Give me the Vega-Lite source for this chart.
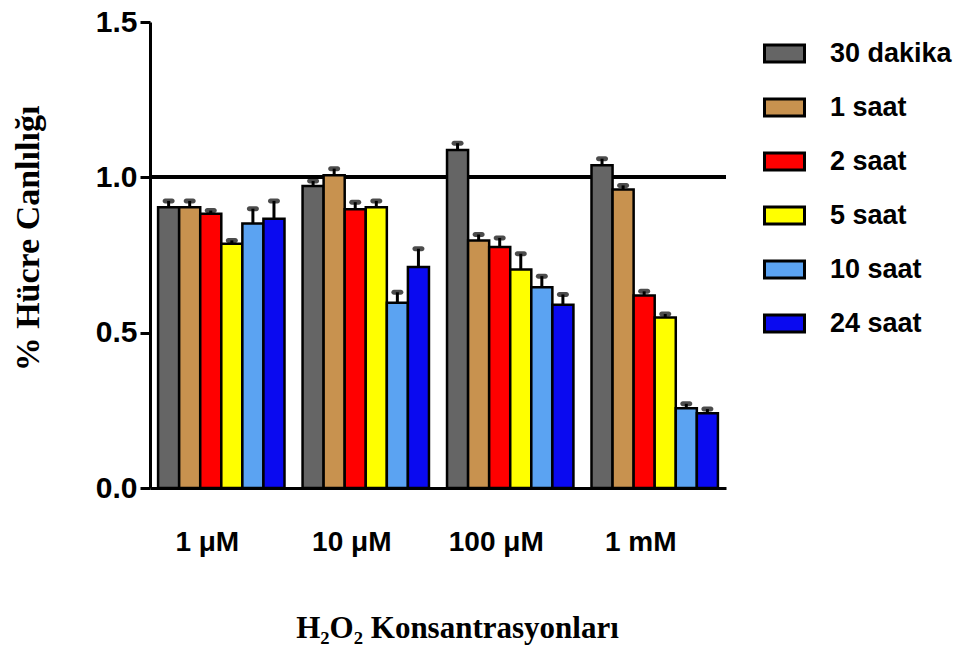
{
  "$schema": "https://vega.github.io/schema/vega-lite/v6.json",
  "width": 576,
  "height": 466,
  "autosize": "none",
  "padding": {"left": 150, "top": 22, "right": 228, "bottom": 158},
  "background": "white",
  "config": {
    "view": {"stroke": null},
    "axis": {"grid": false, "domainColor": "black", "tickColor": "black", "labelColor": "black", "titleColor": "black"}
  },
  "data": {
    "values": [
      {"conc": "1 μM", "series": "30 dakika", "value": 0.904, "hi": 0.924},
      {"conc": "1 μM", "series": "1 saat", "value": 0.904, "hi": 0.924},
      {"conc": "1 μM", "series": "2 saat", "value": 0.883, "hi": 0.893},
      {"conc": "1 μM", "series": "5 saat", "value": 0.786, "hi": 0.797},
      {"conc": "1 μM", "series": "10 saat", "value": 0.851, "hi": 0.899},
      {"conc": "1 μM", "series": "24 saat", "value": 0.867, "hi": 0.924},
      {"conc": "10 μM", "series": "30 dakika", "value": 0.972, "hi": 0.988},
      {"conc": "10 μM", "series": "1 saat", "value": 1.007, "hi": 1.028},
      {"conc": "10 μM", "series": "2 saat", "value": 0.897, "hi": 0.92},
      {"conc": "10 μM", "series": "5 saat", "value": 0.904, "hi": 0.924},
      {"conc": "10 μM", "series": "10 saat", "value": 0.596, "hi": 0.63},
      {"conc": "10 μM", "series": "24 saat", "value": 0.711, "hi": 0.77},
      {"conc": "100 μM", "series": "30 dakika", "value": 1.088, "hi": 1.11},
      {"conc": "100 μM", "series": "1 saat", "value": 0.797, "hi": 0.816},
      {"conc": "100 μM", "series": "2 saat", "value": 0.776, "hi": 0.805},
      {"conc": "100 μM", "series": "5 saat", "value": 0.703, "hi": 0.754},
      {"conc": "100 μM", "series": "10 saat", "value": 0.646, "hi": 0.682},
      {"conc": "100 μM", "series": "24 saat", "value": 0.59, "hi": 0.623},
      {"conc": "1 mM", "series": "30 dakika", "value": 1.039, "hi": 1.06},
      {"conc": "1 mM", "series": "1 saat", "value": 0.961, "hi": 0.974},
      {"conc": "1 mM", "series": "2 saat", "value": 0.62, "hi": 0.633},
      {"conc": "1 mM", "series": "5 saat", "value": 0.549, "hi": 0.56},
      {"conc": "1 mM", "series": "10 saat", "value": 0.257, "hi": 0.271},
      {"conc": "1 mM", "series": "24 saat", "value": 0.241, "hi": 0.254}
    ]
  },
  "encoding": {
    "x": {
      "field": "conc",
      "type": "nominal",
      "sort": ["1 μM", "10 μM", "100 μM", "1 mM"],
      "scale": {"paddingInner": 0.125, "paddingOuter": 0.056},
      "axis": {
        "title": "H₂O₂ Konsantrasyonları",
        "titleFont": "Liberation Serif",
        "titleFontSize": 31,
        "titleFontWeight": "bold",
        "titleX": 307,
        "titleY": 140,
        "titleBaseline": "middle",
        "labelAngle": 0,
        "labelFont": "Liberation Sans",
        "labelFontSize": 28,
        "labelFontWeight": "bold",
        "labelPadding": 40,
        "labelOffset": -14,
        "ticks": false,
        "domainWidth": 3
      }
    },
    "xOffset": {
      "field": "series",
      "type": "nominal",
      "sort": ["30 dakika", "1 saat", "2 saat", "5 saat", "10 saat", "24 saat"],
      "scale": {"paddingInner": 0, "paddingOuter": 0}
    }
  },
  "layer": [
    {
      "mark": {"type": "rule", "color": "black", "strokeWidth": 3},
      "encoding": {"x": null, "xOffset": null, "y": {"datum": 1.0, "type": "quantitative"}}
    },
    {
      "mark": {"type": "bar", "stroke": "black", "strokeWidth": 2.5},
      "encoding": {
        "y": {
          "field": "value",
          "type": "quantitative",
          "scale": {"domain": [0, 1.5], "nice": false},
          "axis": {
            "title": "% Hücre Canlılığı",
            "titleFont": "Liberation Serif",
            "titleFontSize": 34,
            "titleFontWeight": "bold",
            "titleAngle": -90,
            "titleX": -122,
            "titleY": 216,
            "titleBaseline": "middle",
            "titleAlign": "center",
            "values": [0, 0.5, 1.0, 1.5],
            "format": ".1f",
            "labelFont": "Liberation Sans",
            "labelFontSize": 30,
            "labelFontWeight": "bold",
            "labelPadding": 3,
            "tickSize": 10,
            "tickWidth": 3,
            "domainWidth": 3
          }
        },
        "fill": {
          "field": "series",
          "type": "nominal",
          "scale": {
            "domain": ["30 dakika", "1 saat", "2 saat", "5 saat", "10 saat", "24 saat"],
            "range": ["#656565", "#C8924F", "#FF0000", "#FFFF00", "#5BA3F2", "#0A0AF0"]
          },
          "legend": {
            "title": null,
            "orient": "none",
            "legendX": 613,
            "legendY": 10,
            "symbolType": "M-1,-0.42H1V0.42H-1Z",
            "symbolSize": 1600,
            "symbolStrokeColor": "black",
            "symbolStrokeWidth": 3,
            "symbolOpacity": 1,
            "rowPadding": 18,
            "labelOffset": 24,
            "labelFont": "Liberation Sans",
            "labelFontSize": 27,
            "labelFontWeight": "bold",
            "labelColor": "black"
          }
        }
      }
    },
    {
      "mark": {"type": "rule", "color": "black", "strokeWidth": 3},
      "encoding": {
        "y": {"field": "value", "type": "quantitative"},
        "y2": {"field": "hi"}
      }
    },
    {
      "mark": {"type": "tick", "color": "black", "thickness": 5, "size": 12, "cornerRadius": 2.5},
      "encoding": {
        "y": {"field": "hi", "type": "quantitative"}
      }
    }
  ]
}
